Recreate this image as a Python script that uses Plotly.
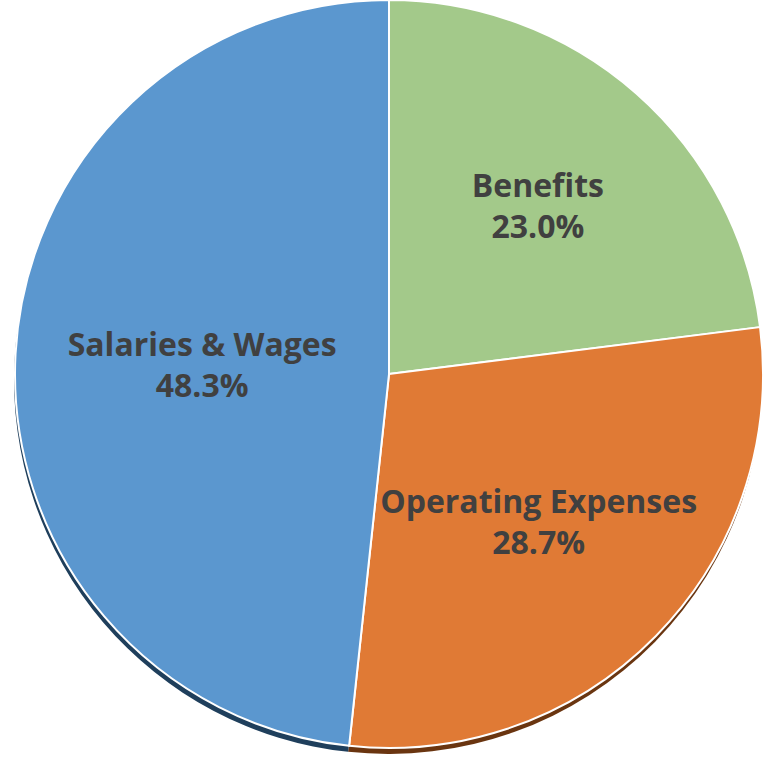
import plotly.graph_objects as go

labels = ["Benefits", "Operating Expenses", "Salaries & Wages"]
values = [23.0, 28.7, 48.3]
colors = ["#A3C98A", "#E07A35", "#5B97CF"]
shadow_colors = ["#4A6A3A", "#6A3510", "#1F3F5C"]

W, H = 776, 760
fig = go.Figure()

# shadow layer (slightly offset down)
fig.add_trace(go.Pie(
    labels=labels, values=values, sort=False, direction="clockwise", rotation=0,
    marker=dict(colors=shadow_colors, line=dict(color="white", width=0)),
    textinfo="none", hoverinfo="skip", showlegend=False,
    domain=dict(x=[13 / W, 763 / W], y=[6 / H, 1 - 6 / H]),
))

fig.add_trace(go.Pie(
    labels=labels, values=values, sort=False, direction="clockwise", rotation=0,
    marker=dict(colors=colors, line=dict(color="white", width=2)),
    texttemplate="%{label}<br>%{value:.1f}%",
    textposition="inside", insidetextorientation="horizontal",
    textfont=dict(family="Open Sans", size=32, color="#404040", weight="bold"),
    showlegend=False,
    domain=dict(x=[14 / W, 764 / W], y=[12 / H, 1]),
))

fig.update_layout(
    width=W, height=H,
    margin=dict(l=0, r=0, t=0, b=0),
    paper_bgcolor="white",
    uniformtext=dict(minsize=32, mode="show"),
)

fig.write_html("out.html", config={"displayModeBar": False},
               post_script="document.body.style.margin='0';")
